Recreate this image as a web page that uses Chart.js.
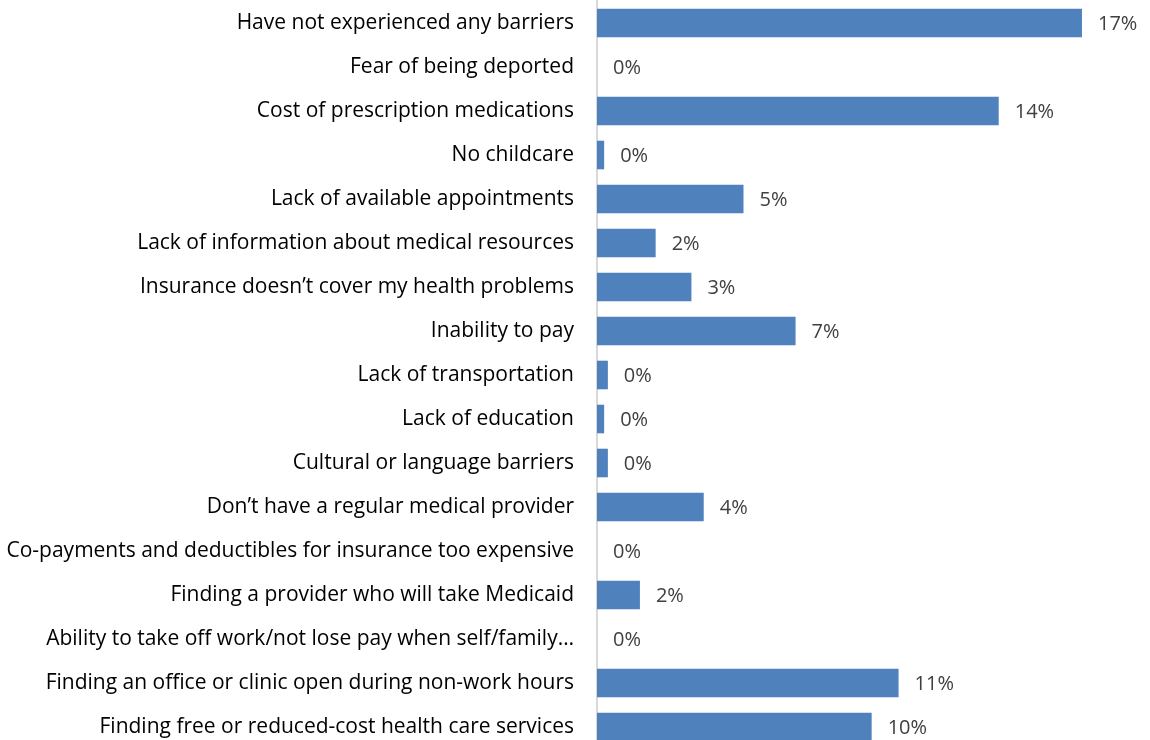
<!DOCTYPE html>
<html>
<head>
<meta charset="utf-8">
<script src="https://cdn.jsdelivr.net/npm/chart.js@4"></script>
<style>
  html, body { margin: 0; padding: 0; background: #fff; overflow: hidden; }
  canvas { display: block; }
</style>
</head>
<body>
<canvas id="chart" width="1150" height="752"></canvas>
<script>
// Категории (сверху вниз)
const categories = [
  'Have not experienced any barriers',
  'Fear of being deported',
  'Cost of prescription medications',
  'No childcare',
  'Lack of available appointments',
  'Lack of information about medical resources',
  'Insurance doesn\u2019t cover my health problems',
  'Inability to pay',
  'Lack of transportation',
  'Lack of education',
  'Cultural or language barriers',
  'Don\u2019t have a regular medical provider',
  'Co-payments and deductibles for insurance too expensive',
  'Finding a provider who will take Medicaid',
  'Ability to take off work/not lose pay when self/family\u2026',
  'Finding an office or clinic open during non-work hours',
  'Finding free or reduced-cost health care services',
];

// Значения в процентах
const values = [16.95, 0, 14.04, 0.25, 5.12, 2.05, 3.3, 6.94, 0.38, 0.25, 0.38, 3.73, 0, 1.5, 0, 10.54, 9.6];

const axisMax = 18;
const fontFamily = '"Open Sans", sans-serif';

// Подписи значений справа от столбцов
const valueLabelsPlugin = {
  id: 'valueLabels',
  afterDatasetsDraw(chart) {
    const ctx = chart.ctx;
    const meta = chart.getDatasetMeta(0);
    ctx.save();
    ctx.font = '20px ' + fontFamily;
    ctx.fillStyle = '#404040';
    ctx.textAlign = 'left';
    ctx.textBaseline = 'middle';
    meta.data.forEach((bar, i) => {
      const text = Math.round(values[i]) + '%';
      ctx.fillText(text, bar.x + 16, bar.y + 1);
    });
    ctx.restore();
  },
};

const ctx = document.getElementById('chart').getContext('2d');
new Chart(ctx, {
  type: 'bar',
  data: {
    labels: categories,
    datasets: [{
      data: values,
      backgroundColor: '#4f81bd',
      borderWidth: 0,
      categoryPercentage: 1,
      barPercentage: 0.65,
    }],
  },
  options: {
    indexAxis: 'y',
    animation: false,
    responsive: false,
    layout: { padding: { top: 1, right: 38, bottom: 3, left: 0 } },
    plugins: {
      legend: { display: false },
      tooltip: { enabled: false },
    },
    scales: {
      x: {
        display: false,
        min: 0,
        max: axisMax,
      },
      y: {
        grid: { display: false, drawTicks: false },
        border: { display: true, color: '#d9d9d9', width: 2 },
        afterFit(scale) {
          scale.width = 597;
          scale.paddingTop = 0;
          scale.paddingBottom = 0;
        },
        ticks: {
          padding: 23,
          color: '#000',
          font: { family: fontFamily, size: 21 },
          autoSkip: false,
        },
      },
    },
  },
  plugins: [valueLabelsPlugin],
});
</script>
</body>
</html>
